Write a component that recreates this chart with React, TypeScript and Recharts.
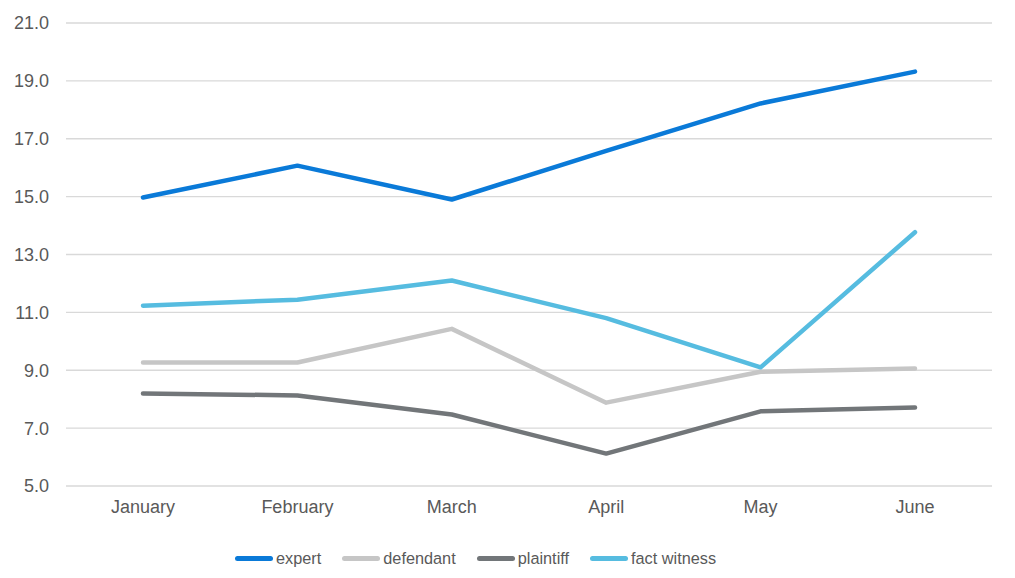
import React from 'react';
import { LineChart, Line, XAxis, YAxis, CartesianGrid, Legend } from 'recharts';

const months = ['January', 'February', 'March', 'April', 'May', 'June'];
const expert = [14.97, 16.07, 14.9, 16.58, 18.22, 19.32];
const defendant = [9.27, 9.27, 10.43, 7.88, 8.95, 9.06];
const plaintiff = [8.2, 8.13, 7.47, 6.12, 7.58, 7.71];
const factWitness = [11.23, 11.44, 12.1, 10.8, 9.1, 13.77];
const yTicks = [5, 7, 9, 11, 13, 15, 17, 19, 21];

const series = [
  { key: 'expert', name: 'expert', color: '#0A7AD8' },
  { key: 'defendant', name: 'defendant', color: '#C6C6C6' },
  { key: 'plaintiff', name: 'plaintiff', color: '#727679' },
  { key: 'factWitness', name: 'fact witness', color: '#56BCE0' },
];

const data = months.map((m, i) => ({
  month: m,
  expert: expert[i],
  defendant: defendant[i],
  plaintiff: plaintiff[i],
  factWitness: factWitness[i],
}));

const LegendContent = () => (
  <div style={{ display: 'flex', justifyContent: 'flex-start', alignItems: 'center', paddingLeft: 235, fontFamily: '"Liberation Sans", Arial, sans-serif', fontSize: 16.3, color: '#595959' }}>
    {series.map((s) => (
      <div key={s.key} style={{ display: 'flex', alignItems: 'center', marginRight: 21 }}>
        <div style={{ width: 38, height: 5, borderRadius: 3, background: s.color, marginRight: 3 }} />
        <span>{s.name}</span>
      </div>
    ))}
  </div>
);

export default function App() {
  return (
    <div style={{ position: 'fixed', left: 0, top: 0, width: 1015, height: 578, background: '#fff' }}>
      <LineChart width={1015} height={578} data={data} margin={{ top: 23, right: 23, left: 0, bottom: 52 }}>
        <CartesianGrid vertical={false} stroke="#D9D9D9" strokeWidth={1.3} />
        <XAxis
          dataKey="month"
          axisLine={false}
          tickLine={false}
          tickSize={0}
          tickMargin={14}
          height={40}
          padding={{ left: 77, right: 77 }}
          tick={{ fill: '#595959', fontSize: 18, fontFamily: '"Liberation Sans", Arial, sans-serif' }}
        />
        <YAxis
          domain={[5, 21]}
          ticks={yTicks}
          width={66}
          axisLine={false}
          tickLine={false}
          tickSize={0}
          tickMargin={17}
          tickFormatter={(v: number) => v.toFixed(1)}
          tick={{ fill: '#595959', fontSize: 18, fontFamily: '"Liberation Sans", Arial, sans-serif' }}
        />
        <Legend
          verticalAlign="middle"
          align="center"
          layout="horizontal"
          content={<LegendContent />}
          wrapperStyle={{ top: 549, left: 0, width: 1015 }}
        />
        {series.map((s) => (
          <Line
            key={s.key}
            type="linear"
            dataKey={s.key}
            name={s.name}
            stroke={s.color}
            strokeWidth={4.5}
            strokeLinecap="round"
            strokeLinejoin="round"
            dot={false}
            activeDot={false}
            isAnimationActive={false}
          />
        ))}
      </LineChart>
    </div>
  );
}
